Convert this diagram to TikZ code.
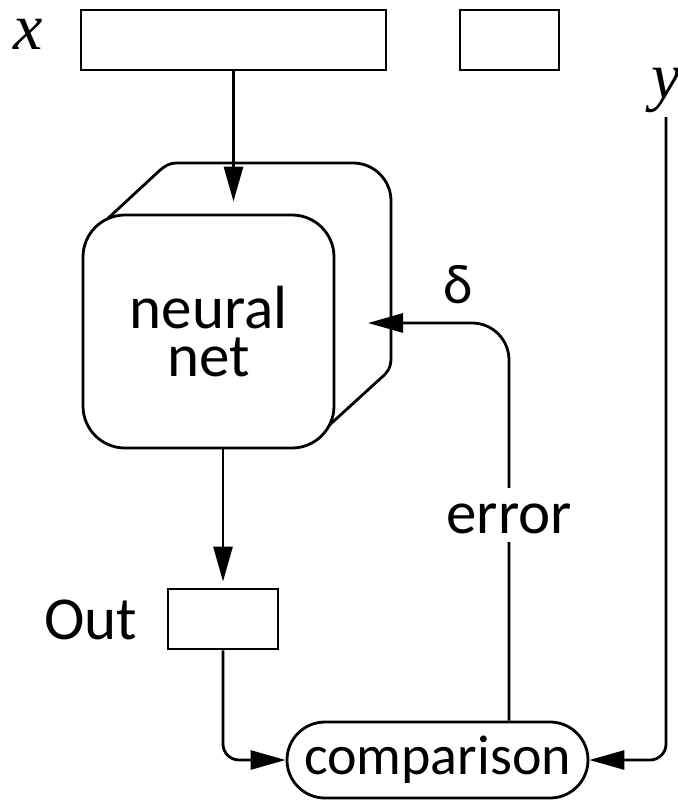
\documentclass[tikz,border=0pt]{standalone}
\usepackage{fontspec}
\setmainfont{Carlito}
\newfontfamily\serifit{Liberation Serif}
\usetikzlibrary{arrows.meta}
\begin{document}
\begin{tikzpicture}[x=1pt,y=-1pt, line width=2.8pt,
  box/.style={draw, rectangle, inner sep=0pt},
  lbl/.style={font=\fontsize{61}{48}\selectfont, inner sep=0pt},
  varlbl/.style={font=\serifit\itshape\fontsize{66}{66}\selectfont, inner sep=0pt, anchor=base},
  arr/.style={-{Triangle[length=35pt,width=19pt]}}]
\useasboundingbox (0,0) rectangle (677,800);

% input boxes
\node[box, minimum width=305pt, minimum height=60pt] (xin) at (233.5,40) {};
\node[box, minimum width=99pt, minimum height=60pt] (xextra) at (509.5,40) {};
\node[varlbl] (xlbl) at (28,50) {x};
\node[varlbl] (ylbl) at (666,98) {y};
\coordinate (ytop) at (666,117);

% back of neural net
\draw (104,222) -- (158,172) .. controls (165,165.5) and (169,163) .. (178,163)
  -- (353,163) .. controls (374,163) and (391,180) .. (391,201)
  -- (391,357) .. controls (391,368) and (388,372) .. (381,378) -- (324,430);

% front of neural net
\node[box, rounded corners=42pt, minimum width=251pt, minimum height=233pt, fill=white,
  align=center, font=\fontsize{61}{48}\selectfont] (nn) at (208.5,331.5) {neural\\net};

% output and comparison
\node[box, minimum width=110pt, minimum height=60pt] (out) at (223,619) {};
\node[lbl, anchor=base] (outlbl) at (91,639) {Out};
\node[box, rounded corners=38pt, minimum width=301pt, minimum height=76pt,
  font=\fontsize{56}{56}\selectfont] (comp) at (437.5,760) {comparison};

% connectors
\draw[arr, shorten >=12pt] (xin.south) -- (xin.south |- nn.north);
\draw[arr, shorten >=6pt] (nn.south -| out.north) -- (out.north);
\draw[arr, rounded corners=16pt] (out.south) |- (comp.west);
\draw[arr, rounded corners=16pt] (ytop) |- (comp.east);
\coordinate (deltatip) at (368,323);
\draw[arr, rounded corners=37pt] ([xshift=71.5pt]comp.north) |- (deltatip);

% labels on feedback
\node[lbl, fill=white, anchor=base, text height=45pt, text depth=9pt, inner xsep=3pt] (err) at (509,533) {error};
\node[lbl, anchor=base, font=\fontsize{56}{56}\selectfont] (delta) at (458,303) {δ};
\end{tikzpicture}
\end{document}
